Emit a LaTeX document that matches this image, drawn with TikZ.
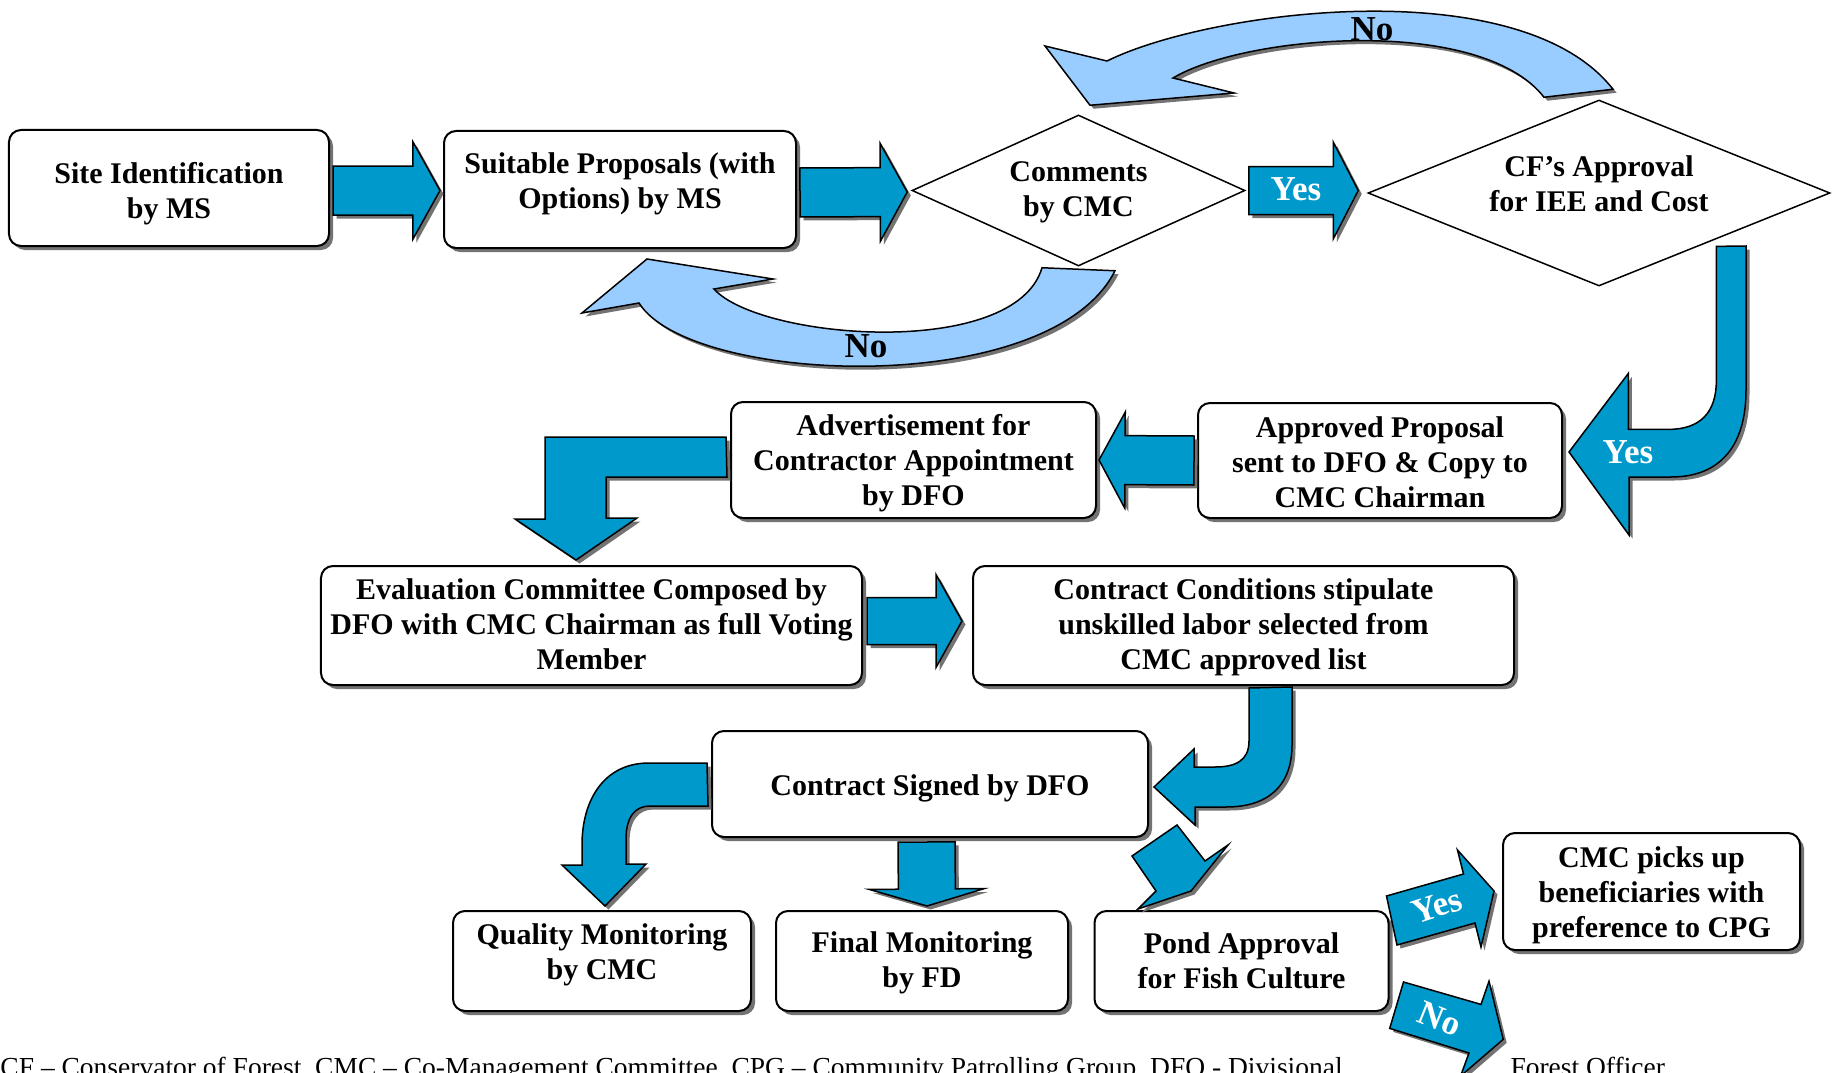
\documentclass[tikz,border=0pt]{standalone}
\usepackage{fontspec}
\setmainfont{Liberation Serif}
\usetikzlibrary{shapes.geometric,calc,shadows}
\definecolor{arrowblue}{RGB}{0,153,204}
\definecolor{arcblue}{RGB}{153,204,255}
\newcommand\blockarr[6]{%
  \coordinate (bA) at #2;
  \coordinate (bP) at #3;
  \coordinate (bH) at ($(bP)!#6!(bA)$);
  \path[#1] ($(bA)!#4!90:(bP)$) -- ($(bH)!#4!90:(bP)$) -- ($(bH)!#5!90:(bP)$) -- (bP)
    -- ($(bH)!#5!-90:(bP)$) -- ($(bH)!#4!-90:(bP)$) -- ($(bA)!#4!-90:(bP)$) -- cycle;
}
\begin{document}
\begin{tikzpicture}[x=0.4pt,y=-0.4pt,
  box/.style={draw, line width=0.8pt, rounded corners=4.8pt, fill=white,
    inner sep=0pt,
    drop shadow={shadow xshift=1.6pt, shadow yshift=-1.6pt, fill=black!55, opacity=1}},
  dia/.style={diamond, draw, line width=0.6pt, fill=white, aspect=2.2, inner sep=0pt},
  lab/.style={align=center, inner sep=0pt, font=\bfseries\fontsize{12}{14}\selectfont},
  blk/.style={fill=arrowblue, draw=black, line width=0.6pt, line join=miter,
    drop shadow={shadow xshift=1.4pt, shadow yshift=-1.4pt, fill=black!55, opacity=1}},
  arcband/.style={fill=arcblue, draw=black, line width=0.6pt, line join=miter,
    drop shadow={shadow xshift=1.4pt, shadow yshift=-1.4pt, fill=black!55, opacity=1}},
  wlab/.style={text=white, font=\bfseries\fontsize{14}{16}\selectfont, inner sep=0pt},
  blab/.style={text=black, font=\bfseries\fontsize{14}{16}\selectfont, inner sep=0pt},
  foot/.style={font=\fontsize{11}{13}\selectfont, inner sep=0pt, anchor=base west}]

\fill[white] (0,0) rectangle (1836,1073);
\useasboundingbox (0,0) rectangle (1836,1073);
\clip (0,0) rectangle (1836,1073);

% nodes
\node[box, minimum width=128pt, minimum height=46.4pt,
  label={[lab,yshift=-2.3pt]center:{Site Identification\\by MS}}] (A) at (169,188) {};
\node[box, minimum width=140.8pt, minimum height=46.8pt,
  label={[lab,yshift=2.3pt]center:{Suitable Proposals (with\\Options) by MS}}] (B) at (620,189.5) {};
\node[dia, minimum width=133.2pt, minimum height=60.4pt,
  label={[lab,yshift=-0.9pt]center:{Comments\\by CMC}}] (C) at (1078.5,190.5) {};
\node[dia, minimum width=184.8pt, minimum height=74.4pt, aspect=2.5,
  label={[lab,yshift=3.7pt]center:{CF’s Approval\\for IEE and Cost}}] (D) at (1599,193) {};
\node[box, minimum width=145.6pt, minimum height=46pt,
  label={[lab,yshift=-0.5pt]center:{Approved Proposal\\sent to DFO \& Copy to\\CMC Chairman}}] (E) at (1380,460.5) {};
\node[box, minimum width=146pt, minimum height=46.4pt,
  label={[lab,yshift=-1.4pt]center:{Advertisement for\\Contractor Appointment\\by DFO}}] (F) at (913.5,460) {};
\node[box, minimum width=216.4pt, minimum height=47.6pt,
  label={[lab,yshift=0.5pt]center:{Evaluation Committee Composed by\\DFO with CMC Chairman as full Voting\\Member}}] (G) at (591.5,625.5) {};
\node[box, minimum width=216.4pt, minimum height=47.6pt,
  label={[lab,yshift=-0.9pt]center:{Contract Conditions stipulate\\unskilled labor selected from\\CMC approved list}}] (H) at (1243.5,625.5) {};
\node[box, minimum width=174.4pt, minimum height=42.4pt,
  label={[lab,yshift=-1.9pt]center:{Contract Signed by DFO}}] (I) at (930,784) {};
\node[box, minimum width=119.2pt, minimum height=40pt,
  label={[lab,yshift=2.3pt]center:{Quality Monitoring\\by CMC}}] (J) at (602,961) {};
\node[box, minimum width=116.8pt, minimum height=40pt,
  label={[lab,yshift=-0.9pt]center:{Final Monitoring\\by FD}}] (K) at (922,961) {};
\node[box, minimum width=117.6pt, minimum height=40pt,
  label={[lab]center:{Pond Approval\\for Fish Culture}}] (L) at (1241.5,961) {};
\node[box, minimum width=118.8pt, minimum height=46.8pt,
  label={[lab,yshift=-1.4pt]center:{CMC picks up\\beneficiaries with\\preference to CPG}}] (M) at (1651.5,891.5) {};

% straight block arrows
\blockarr{blk}{($(A.east)+(3,2.5)$)}{($(B.west)+(-3,1)$)}{9.8pt}{19.4pt}{10.8pt}
\blockarr{blk}{($(B.east)+(3,3)$)}{($(C.west)+(-4,1.5)$)}{9.8pt}{19.6pt}{10.8pt}
\blockarr{blk}{($(C.east)+(3,0)$)}{($(D.west)+(-9,-2.5)$)}{9.6pt}{19.4pt}{10pt}
\node[wlab] (yes1) at (1296,189) {Yes};
\blockarr{blk}{($(E.west)+(-3,0)$)}{($(F.east)+(2,0)$)}{9.8pt}{19.2pt}{10.4pt}
\blockarr{blk}{($(G.east)+(4,-4.5)$)}{($(H.west)+(-10,-4.5)$)}{9.4pt}{18.6pt}{10.4pt}
\blockarr{blk}{($(I.south)+(-3.5,4)$)}{($(K.north)+(5,-4)$)}{11.4pt}{23pt}{6.8pt}

% L-shaped arrow F -> G
\coordinate (fg) at ($(G.north)+(-15.5,-5)$);
\path[blk] ($(F.west)+(-4,-23)$) -- ++(-181,0) -- ++(0,82) -- ++(-30,0) -- (fg)
  -- ++(61,-42) -- ++(-31,0) -- ++(0,-41) -- ++(121,0) -- cycle;

% curved Yes arrow D -> E
\coordinate (de0) at ($($(D.south)!0.5!(D.east)$)+(1.5,6.5)$);
\coordinate (de1) at ($(E.east)+(6,-8.5)$);
\path[blk] (de0) -- ++(0,134) .. controls +(0,32) and +(32,0) .. ++(-48,49) -- ++(-40,0)
  -- ++(0,-56) -- (de1) -- ++(60,83) -- ++(0,-58) -- ++(42,0)
  .. controls +(50,0) and +(0,55) .. ++(75,-87) -- ++(0,-144) -- cycle;
\node[wlab] (yes2) at (1628,452) {Yes};

% curved arrow H -> I
\coordinate (hi0) at ($(H.south)+(5.5,2)$);
\coordinate (hi1) at ($(I.east)+(5,3)$);
\path[blk] (hi0) -- ++(0,53) .. controls +(0,20) and +(20,0) .. ++(-34,26) -- ++(-21,0)
  -- ++(0,-18) -- (hi1) -- ++(41,38) -- ++(0,-18) -- ++(31,0)
  .. controls +(43,0) and +(0,40) .. ++(66,-62) -- ++(0,-58) -- cycle;

% curved arrow I -> J
\coordinate (ij0) at ($(I.west)+(-4,-21)$);
\coordinate (ij1) at ($(J.north)+(3,-4)$);
\path[blk] (ij0) -- ++(-58,0) .. controls +(-45,0) and +(0,-45) .. ++(-67,82) -- ++(0,20)
  -- ++(-20,0) -- (ij1) -- ++(41,-42) -- ++(-20,0) -- ++(0,-25)
  .. controls +(0,-22) and +(-15,0) .. ++(24,-33) -- ++(58,0) -- cycle;

% diagonal arrow I -> L
\coordinate (il0) at ($(I.south east)+(28,-13)$);
\coordinate (il1) at ($(L.north)+(-103.5,-1)$);
\path[blk] (il0) -- ++(28,36) -- ++(23,-16) -- ++(-37,46) -- (il1) -- ++(18,-18) -- ++(-24,-35) -- cycle;

% Yes arrow L -> M
\coordinate (lm0) at ($(L.north east)+(-3,-14)$);
\coordinate (lm1) at ($(M.west)+(-8,-0.5)$);
\path[blk] (lm0) -- ++(77,-22) -- ++(-6,-24) -- (lm1) -- ++(-13,56) -- ++(-6,-24) -- ++(-78,22) -- cycle;
\node[wlab, rotate=18] (yes3) at (1437,906) {Yes};

% No arrow from L
\coordinate (ln0) at ($(L.east)+(14,21)$);
\coordinate (ln1) at ($(ln0)+(99.7,57.3)$);
\path[blk] (ln0) -- ++(77.5,22.4) -- ++(8,-23.2) -- (ln1) -- ++(-42.7,36.9) -- ++(8.5,-23.2) -- ++(-79.3,-24.6) -- cycle;
\node[wlab, rotate=-22] (no3) at (1440,1019) {No};

% top No arc D -> C
\coordinate (ca1) at ($(C.north)+(11.5,-9)$);
\path[arcband] (1107,61) -- (1045,46) -- (ca1) -- (1234,93) -- (1173,78)
  .. controls (1245,35) and (1480,15) .. ($(D.north)+(-55,-2)$) -- ($(D.north)+(14,-10)$)
  .. controls (1520,-30) and (1210,10) .. (1107,61) -- cycle;
\node[blab] (no1) at (1372,29) {No};

% bottom No arc C -> B
\coordinate (cb1) at ($(B.south)+(27,10)$);
\path[arcband] (639,303) -- (582,313) -- (cb1) -- (773,279) -- (714,289)
  .. controls (760,340) and (1015,360) .. ($(C.south)+(-36.5,1)$) -- ($(C.south)+(36.5,4)$)
  .. controls (1050,400) and (690,385) .. (639,303) -- cycle;
\node[blab] (no2) at (866,346) {No};

% footer
\node[foot] (ft1) at (0,1076) {CF – Conservator of Forest, CMC – Co-Management Committee, CPG – Community Patrolling Group, DFO - Divisional};
\node[foot] (ft2) at (1510,1076) {Forest Officer};
\end{tikzpicture}
\end{document}
